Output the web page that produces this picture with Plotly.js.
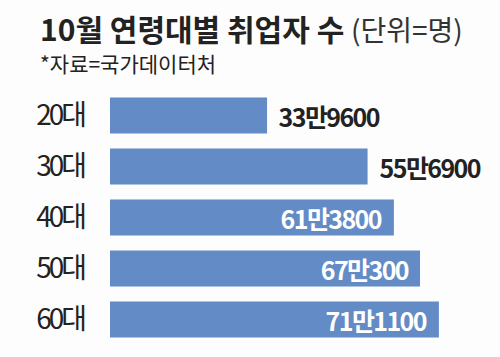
<!DOCTYPE html>
<html><head><meta charset="utf-8">
<script src="https://cdn.plot.ly/plotly-3.0.1.min.js"></script>
<style>
html,body{margin:0;padding:0;background:#fdfdfd;}
#chart{width:500px;height:357px;}
.annotation-text.val{letter-spacing:-1.6px;}
.ytick text{letter-spacing:-3px;}
</style>
</head><body><div id="chart"></div>
<script>
const categories = ["20대", "30대", "40대", "50대", "60대"];
const values = [339600, 556900, 613800, 670300, 711100];
const titleText = "10월 연령대별 취업자 수";
const unitText = "(단위=명)";
const sourceText = "*자료=국가데이터처";

function fmt(v){ const m = Math.floor(v/10000), r = v % 10000; return m + "만" + (r ? r : ""); }
const insideFrom = 2;
const kr = "'Noto Sans CJK KR', sans-serif";

const annotations = values.map((v,i)=>({
  x: v, y: categories[i], xref:'x', yref:'y', text: fmt(v), showarrow:false,
  xanchor: i < insideFrom ? 'left' : 'right', xshift: i < insideFrom ? 4 : -5,
  font: {family: kr, size: 25, color: i < insideFrom ? '#222' : '#ffffff', weight: 'bold'}
}));
annotations.push({xref:'paper', yref:'paper', x:-0.1895, y:1.245, yanchor:'middle', xanchor:'left', showarrow:false,
  text: "<b>"+titleText+"</b> <span style='font-size:28px;font-weight:normal;color:#333'>"+unitText+"</span>",
  font:{family:kr, size:30, color:'#222'}});
annotations.push({xref:'paper', yref:'paper', x:-0.1895, y:1.104, yanchor:'middle', xanchor:'left', showarrow:false,
  text: sourceText, font:{family:kr, size:21, color:'#222'}});

const data = [{type:'bar', orientation:'h', x: values, y: categories, marker:{color:'#638bc5'}, hoverinfo:'none'}];
const layout = {
  width:500, height:357, paper_bgcolor:'#fdfdfd', plot_bgcolor:'#fdfdfd',
  margin:{l:110, r:10, t:90, b:12, pad:0},
  bargap:0.29, showlegend:false,
  xaxis:{range:[0, 821600], visible:false, fixedrange:true},
  yaxis:{autorange:'reversed', type:'category', showgrid:false, zeroline:false, showline:false, ticks:'', ticklabelstandoff:25,
    tickfont:{family:kr, size:28, color:'#222', weight:400}},
  annotations: annotations
};
Plotly.newPlot('chart', data, layout, {displayModeBar:false, staticPlot:true}).then(()=>{
  document.querySelectorAll('.annotation').forEach((g,i)=>{ if(i<values.length){ const t=g.querySelector('.annotation-text'); if(t) t.classList.add('val'); }});
});
</script></body></html>
